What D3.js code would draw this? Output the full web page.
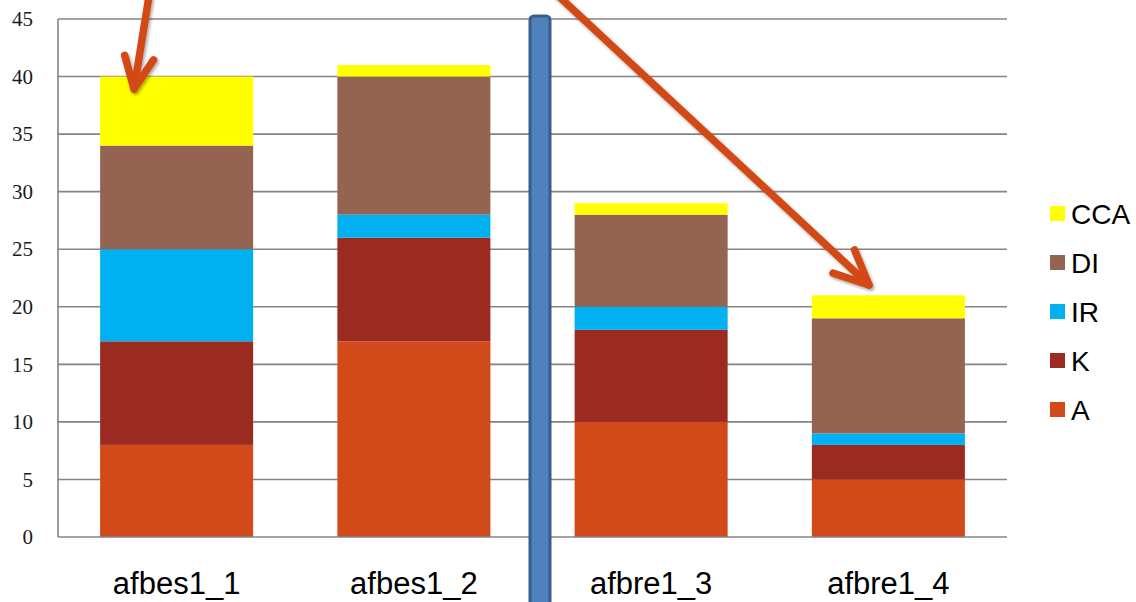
<!DOCTYPE html>
<html>
<head>
<meta charset="utf-8">
<script src="https://cdn.jsdelivr.net/npm/d3@7"></script>
<style>
  body { margin: 0; background: #fff; }
  svg { display: block; }
</style>
</head>
<body>
<svg id="chart" width="1136" height="602"></svg>
<script>
// Samples and stacked component counts
const categories = ["afbes1_1", "afbes1_2", "afbre1_3", "afbre1_4"];
const seriesNames = ["A", "K", "IR", "DI", "CCA"];
const valuesA   = [8, 17, 10, 5];
const valuesK   = [9, 9, 8, 3];
const valuesIR  = [8, 2, 2, 1];
const valuesDI  = [9, 12, 8, 10];
const valuesCCA = [6, 1, 1, 2];
const yTicks = [0, 5, 10, 15, 20, 25, 30, 35, 40, 45];
const colors = { A: "#d24a19", K: "#9b2b20", IR: "#00b0f0", DI: "#946352", CCA: "#ffff00" };

const seriesValues = { A: valuesA, K: valuesK, IR: valuesIR, DI: valuesDI, CCA: valuesCCA };
const rows = categories.map((c, i) => {
  const r = { cat: c };
  seriesNames.forEach(s => r[s] = seriesValues[s][i]);
  return r;
});

const svg = d3.select("#chart");
const plotLeft = 58, plotRight = 1007, plotTop = 19, plotBottom = 537;

const x = d3.scaleBand().domain(categories).range([plotLeft, plotRight])
  .paddingInner(0.355).paddingOuter(0.1775);
const y = d3.scaleLinear().domain([0, 45]).range([plotBottom, plotTop]);

const defs = svg.append("defs");
const shadow = defs.append("filter").attr("id", "shadow")
  .attr("x", "-20%").attr("y", "-20%").attr("width", "140%").attr("height", "140%");
shadow.append("feDropShadow").attr("dx", 1.5).attr("dy", 2).attr("stdDeviation", 1.5)
  .attr("flood-color", "#000").attr("flood-opacity", 0.35);

// Horizontal gridlines
svg.append("g").selectAll("line").data(yTicks.filter(t => t > 0)).join("line")
  .attr("x1", plotLeft).attr("x2", plotRight)
  .attr("y1", d => y(d)).attr("y2", d => y(d))
  .attr("stroke", "#858585").attr("stroke-width", 1.6);

// Y axis tick labels
const yAxis = d3.axisLeft(y).tickValues(yTicks).tickSize(0).tickPadding(25);
const gy = svg.append("g").attr("transform", `translate(${plotLeft},0)`).call(yAxis);
gy.select(".domain").remove();
gy.selectAll("text").attr("font-family", "'Liberation Serif', 'Times New Roman', serif")
  .attr("font-size", 21).attr("fill", "#1a1a1a");

// Stacked bars
const stack = d3.stack().keys(seriesNames)(rows);
svg.append("g").selectAll("g").data(stack).join("g")
  .attr("fill", d => colors[d.key])
  .selectAll("rect").data(d => d).join("rect")
  .attr("x", d => x(d.data.cat))
  .attr("width", x.bandwidth())
  .attr("y", d => y(d[1]))
  .attr("height", d => y(d[0]) - y(d[1]));

// Axis lines
svg.append("line").attr("x1", plotLeft).attr("x2", plotLeft).attr("y1", plotTop).attr("y2", plotBottom)
  .attr("stroke", "#858585").attr("stroke-width", 1.6);
svg.append("line").attr("x1", plotLeft).attr("x2", plotRight).attr("y1", plotBottom).attr("y2", plotBottom)
  .attr("stroke", "#858585").attr("stroke-width", 1.6);

// Category labels
const xAxis = d3.axisBottom(x).tickSize(0).tickPadding(0);
const gx = svg.append("g").attr("transform", `translate(0,${plotBottom})`).call(xAxis);
gx.select(".domain").remove();
gx.selectAll("text").attr("y", 57).attr("dy", null)
  .attr("font-family", "'Liberation Sans', Arial, sans-serif")
  .attr("font-size", 31).attr("fill", "#000");

// Legend (top series first)
const legend = svg.append("g");
const legendItems = seriesNames.slice().reverse();
legendItems.forEach((s, i) => {
  const cy = 213.5 + i * 49;
  legend.append("rect").attr("x", 1050).attr("y", cy - 7.5).attr("width", 15).attr("height", 15)
    .attr("fill", colors[s]);
  legend.append("text").attr("x", 1071).attr("y", cy + 10)
    .attr("font-family", "'Liberation Sans', Arial, sans-serif").attr("font-size", 28)
    .attr("fill", "#000").text(s);
});

// Divider between the two sample groups
svg.append("rect").attr("x", 530).attr("y", 16).attr("width", 20).attr("height", 600)
  .attr("rx", 4).attr("fill", "#4f81bd").attr("stroke", "#385d8a").attr("stroke-width", 3);

// Annotation arrows
const arrowColor = "#d24a19";
function arrow(x1, y1, x2, y2, head) {
  const g = svg.append("g").attr("filter", "url(#shadow)")
    .attr("stroke", arrowColor).attr("stroke-width", 7.5).attr("stroke-linecap", "round")
    .attr("stroke-linejoin", "round").attr("fill", "none");
  g.append("line").attr("x1", x1).attr("y1", y1).attr("x2", x2).attr("y2", y2);
  const ang = Math.atan2(y2 - y1, x2 - x1);
  const a1 = ang + Math.PI - 0.43, a2 = ang + Math.PI + 0.43;
  g.append("path").attr("d",
    `M${x2 + head * Math.cos(a1)},${y2 + head * Math.sin(a1)} L${x2},${y2} L${x2 + head * Math.cos(a2)},${y2 + head * Math.sin(a2)}`);
}
arrow(150, -10, 134, 89, 35);
arrow(552, -10, 869, 285, 38);
</script>
</body>
</html>
